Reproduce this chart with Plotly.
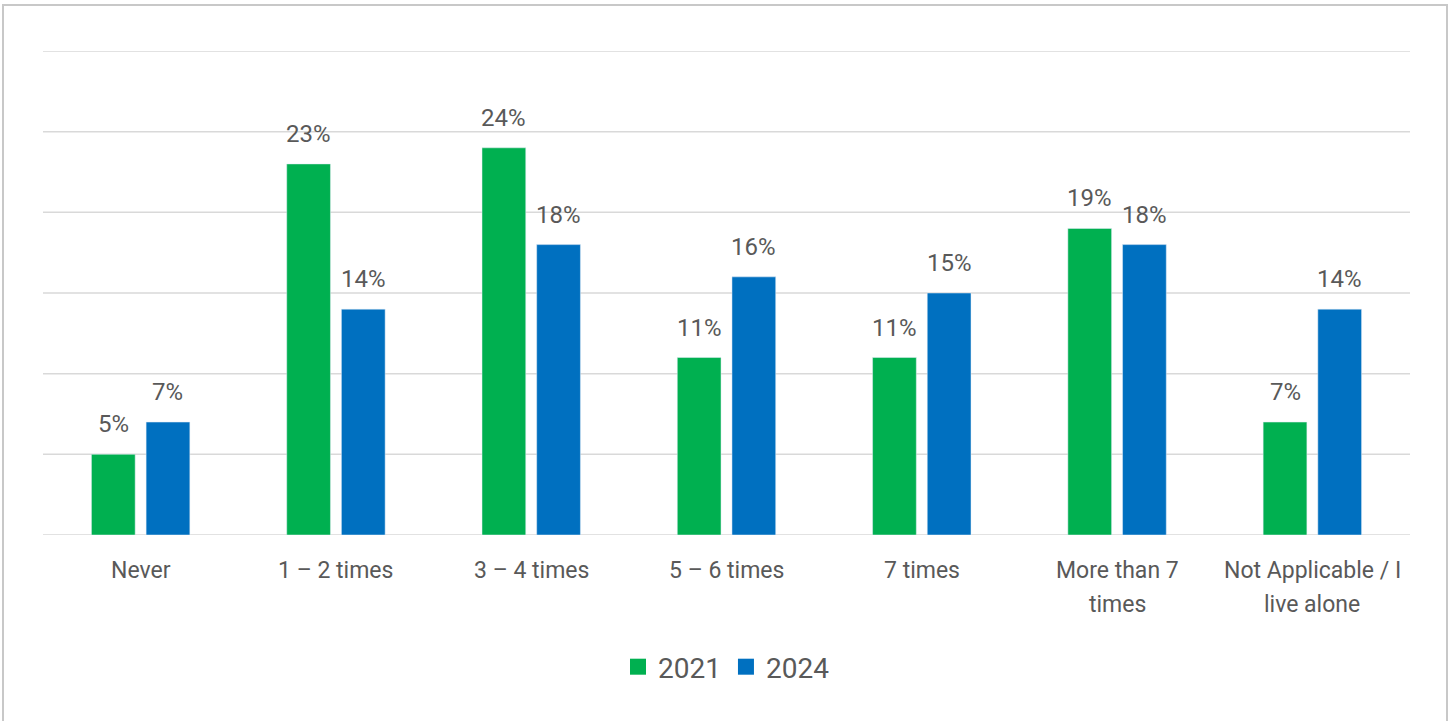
import plotly.graph_objects as go

categories = ["Never", "1 – 2 times", "3 – 4 times", "5 – 6 times", "7 times",
              "More than 7<br>times", "Not Applicable / I<br>live alone"]
values_2021 = [5, 23, 24, 11, 11, 19, 7]
values_2024 = [7, 14, 18, 16, 15, 18, 14]
y_ticks = [0, 5, 10, 15, 20, 25, 30]

GREEN = "#00B050"
BLUE = "#0070C0"
TEXT = "#595959"
GRID = "#D9D9D9"
FONT = "Roboto"

W, H = 1453, 721
L, R, T, B = 43, 43, 51, 186
pw, ph = W - L - R, H - T - B
BARGAP = 0.44

def px_x(x):
    return (x - L) / pw

def px_y(y):
    return (H - B - y) / ph

series = [("2021", values_2021, GREEN), ("2024", values_2024, BLUE)]

fig = go.Figure()
for name, vals, color in series:
    fig.add_trace(go.Bar(name=name, x=categories, y=vals, marker_color=color,
                         showlegend=False))
    # square legend swatch
    fig.add_trace(go.Scatter(name=name, x=[None], y=[None], mode="markers",
                             marker=dict(symbol="square", size=17, color=color),
                             showlegend=True))

# value labels above each bar
cat_px = pw / len(categories)
slot_px = (1 - BARGAP) * cat_px / len(series)
annotations = []
for si, (name, vals, color) in enumerate(series):
    xshift = (si - (len(series) - 1) / 2) * slot_px
    for cat, v in zip(categories, vals):
        annotations.append(dict(x=cat, y=v, xref="x", yref="y", text=f"{v}%",
                                showarrow=False, xshift=xshift, yshift=30,
                                font=dict(size=24, color=TEXT, family=FONT)))

# category labels, one annotation per line for wider line spacing
for cat in categories:
    for li, line in enumerate(cat.split("<br>")):
        annotations.append(dict(x=cat, y=0, xref="x", yref="y", text=line,
                                showarrow=False, yshift=-35 - 34 * li,
                                font=dict(size=23, color=TEXT, family=FONT)))

# horizontal gridlines
shapes = [dict(type="line", xref="paper", yref="y", x0=0, x1=1, y0=v, y1=v,
               line=dict(color=GRID, width=1.5), layer="below") for v in y_ticks]
# outer frame
shapes.append(dict(type="rect", xref="paper", yref="paper",
                   x0=px_x(3), x1=px_x(1447), y0=px_y(740), y1=px_y(5),
                   line=dict(color="#C8C8C8", width=2), layer="below"))

fig.update_layout(
    width=W, height=H,
    margin=dict(l=L, r=R, t=T, b=B),
    paper_bgcolor="white", plot_bgcolor="white",
    barmode="group", bargap=BARGAP, bargroupgap=0.2,
    font=dict(family=FONT, color=TEXT, size=20),
    showlegend=True,
    legend=dict(orientation="h", x=0.5, xanchor="center", y=px_y(667), yanchor="middle",
                font=dict(size=28, color=TEXT, family=FONT), itemsizing="trace",
                traceorder="normal", itemwidth=30),
    xaxis=dict(showgrid=False, showline=False, ticks="", showticklabels=False),
    yaxis=dict(range=[0, 30], showgrid=False, showticklabels=False,
               zeroline=False, showline=False),
    annotations=annotations,
    shapes=shapes,
)

fig.write_html("out.html")
